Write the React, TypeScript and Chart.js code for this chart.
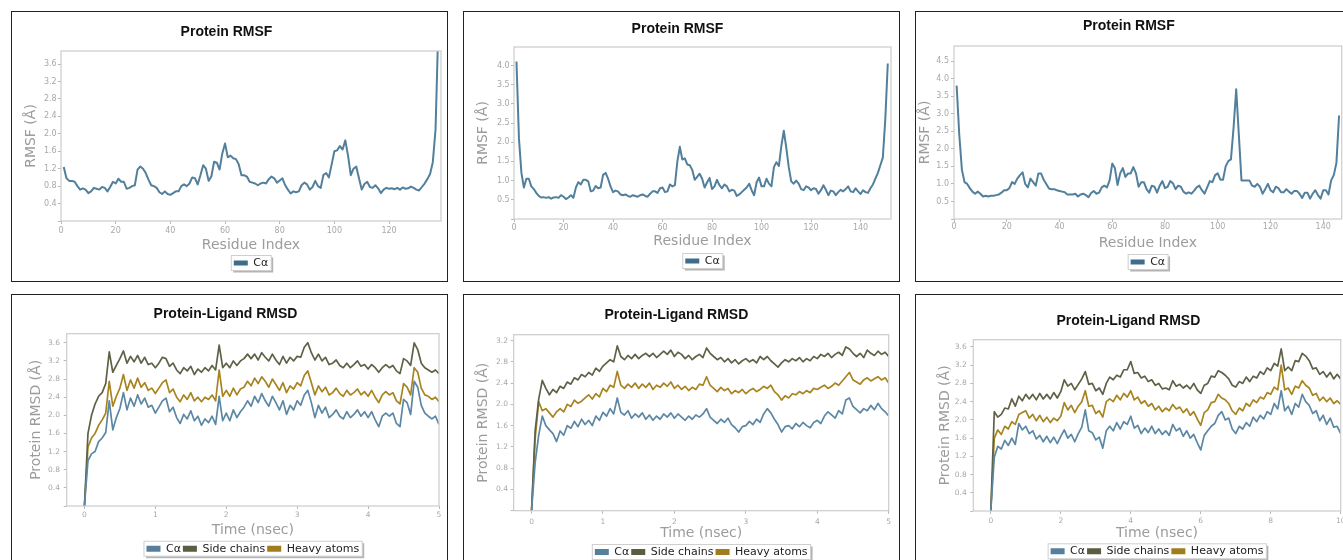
import { useEffect, useRef } from 'react';
import { Chart, registerables } from 'chart.js';

Chart.register(...registerables);

// ---------------- DATA ----------------
// Protein RMSF, C-alpha, one value per residue (residue index starts at 1)
const RMSF_A = [
  1.24, 0.98, 0.92, 0.92, 0.9, 0.8, 0.72, 0.75, 0.72, 0.64,
  0.68, 0.76, 0.74, 0.72, 0.78, 0.76, 0.68, 0.78, 0.9, 0.86,
  0.97, 0.9, 0.9, 0.74, 0.76, 0.8, 0.82, 1.18, 1.25, 1.2,
  1.1, 0.95, 0.82, 0.8, 0.76, 0.66, 0.62, 0.68, 0.62, 0.6,
  0.64, 0.68, 0.68, 0.8, 0.84, 0.8, 0.86, 1.0, 0.98, 0.84,
  1.05, 1.28, 1.2, 0.92, 1.02, 1.36, 1.34, 1.18, 1.55, 1.78,
  1.46, 1.5, 1.44, 1.42, 1.3, 1.05, 1.05, 1.02, 0.9, 0.88,
  0.86, 0.82, 0.86, 0.88, 0.86, 0.96, 1.02, 0.98, 0.88, 0.93,
  0.98, 0.82, 0.72, 0.63, 0.68, 0.66, 0.68, 0.82, 0.88, 0.84,
  0.72, 0.78, 0.92, 0.8, 0.76, 1.06, 1.1, 1.0, 1.3, 1.6,
  1.62, 1.72, 1.64, 1.85, 1.5, 1.05, 1.2, 1.25, 0.98, 0.72,
  0.85, 0.9, 0.78, 0.76, 0.82, 0.75, 0.64, 0.72, 0.76, 0.74,
  0.75, 0.73, 0.76, 0.72, 0.77, 0.74, 0.75, 0.79, 0.76, 0.72,
  0.7, 0.78, 0.86, 0.96, 1.08, 1.35, 2.1, 4.4,
];

const RMSF_B = [
  4.1, 2.1, 1.2, 0.82, 1.05, 1.05, 0.85, 0.78, 0.68, 0.6,
  0.56, 0.57, 0.55, 0.57, 0.53, 0.56, 0.57, 0.55, 0.62, 0.58,
  0.52, 0.56, 0.62, 0.55, 0.82, 0.96, 0.9, 1.02, 1.02, 0.98,
  0.72, 0.74, 0.86, 0.8, 0.82, 1.15, 1.2, 1.05, 0.85, 0.7,
  0.74, 0.72, 0.64, 0.62, 0.64, 0.6, 0.58, 0.62, 0.6, 0.58,
  0.62, 0.64, 0.6, 0.58, 0.66, 0.72, 0.72, 0.68, 0.8, 0.82,
  0.7, 0.72, 0.9, 0.85, 0.88, 1.5, 1.88, 1.55, 1.58, 1.42,
  1.4, 1.28, 1.02, 1.1, 1.18, 1.05, 0.82, 0.95, 1.07, 0.78,
  0.85, 1.02, 0.88, 0.8, 0.9, 0.85, 0.72, 0.76, 0.74, 0.6,
  0.64, 0.7, 0.76, 0.82, 0.92, 0.75, 0.62, 0.95, 1.08, 0.85,
  0.85, 1.05, 0.92, 0.85, 1.35, 1.48, 1.38, 1.9, 2.3, 1.85,
  1.35, 0.98, 0.92, 1.0, 0.92, 0.78, 0.75, 0.85, 0.82, 0.75,
  0.8, 0.78, 0.66, 0.75, 0.88, 0.76, 0.62, 0.74, 0.72, 0.62,
  0.7, 0.76, 0.72, 0.78, 0.85, 0.72, 0.7, 0.8, 0.72, 0.65,
  0.75, 0.7, 0.68, 0.8, 0.9, 1.05, 1.2, 1.4, 1.6, 2.6, 4.05,
];

const RMSF_C = [
  3.8, 2.4, 1.4, 1.05, 1.0, 0.88, 0.78, 0.72, 0.78, 0.72,
  0.64, 0.66, 0.64, 0.66, 0.66, 0.68, 0.7, 0.75, 0.82, 0.82,
  0.88, 1.05, 1.0, 1.15, 1.25, 1.33, 1.0, 0.9, 1.15, 1.05,
  0.95, 1.3, 1.3, 1.12, 1.0, 0.87, 0.85, 0.85, 0.82, 0.8,
  0.78, 0.76, 0.7, 0.7, 0.7, 0.72, 0.64, 0.7, 0.72, 0.68,
  0.62, 0.74, 0.8, 0.72, 0.75, 0.9, 0.95, 0.9, 1.1, 1.58,
  1.45, 0.97, 1.3, 1.45, 1.2, 1.3, 1.3, 1.48, 1.3, 0.92,
  1.05, 1.05, 0.85, 0.75, 0.95, 0.92, 0.75, 0.95, 1.08, 0.88,
  0.92, 1.08, 1.02, 0.85, 0.95, 0.92, 0.78, 0.72, 0.76, 0.72,
  0.8, 0.9, 0.95, 0.82, 0.72, 0.9, 1.08, 1.05, 1.25, 1.3,
  1.12, 1.12, 1.5, 1.65, 1.7, 2.6, 3.7, 2.4, 1.1, 1.1,
  1.1, 1.1, 0.95, 0.92, 1.0, 0.92, 0.72, 0.85, 1.0, 0.82,
  0.76, 0.92, 0.88, 0.76, 0.76, 0.85, 0.78, 0.72, 0.8, 0.8,
  0.72, 0.6, 0.75, 0.75, 0.58, 0.72, 0.82, 0.68, 0.58, 0.82,
  0.82, 0.7, 1.1, 1.25, 1.6, 2.95,
];

// Protein-Ligand RMSD, sampled every 0.05 ns (5 ns runs) or 0.1 ns (10 ns run)
const RMSD_A_CA = [
  0, 1.0, 1.15, 1.2, 1.42, 1.5, 1.62, 2.32, 1.68, 1.95,
  2.15, 2.5, 2.12, 2.38, 2.2, 2.45, 2.25, 2.38, 2.18, 2.22,
  2.05, 2.18, 2.32, 2.38, 2.08, 2.18, 1.95, 1.82, 2.02, 1.92,
  2.1, 1.88, 1.98, 1.78, 1.92, 1.84, 1.98, 1.8, 2.42, 1.88,
  2.05, 1.88, 2.12, 1.95, 2.08, 2.18, 2.32, 2.2, 2.42, 2.28,
  2.48, 2.32, 2.2, 2.42, 2.28, 2.12, 2.32, 2.02, 2.22, 2.12,
  2.32, 2.22, 2.45, 2.55, 2.28, 1.95, 2.22, 2.05, 2.18, 1.95,
  2.02, 2.12, 1.98, 1.92, 2.08, 1.95, 2.02, 2.12, 1.98, 2.08,
  1.95, 2.08, 1.9, 1.75, 1.98, 2.05, 1.98, 2.05, 1.82, 1.75,
  2.35, 2.28, 2.02, 2.75, 2.62, 2.22, 2.05, 1.98, 1.92, 1.98,
  1.8,
];
const RMSD_A_SC = [
  0, 1.6, 2.0, 2.25, 2.42, 2.5, 2.7, 3.4, 2.95, 3.1,
  3.25, 3.42, 3.15, 3.3, 3.18, 3.32, 3.15, 3.28, 3.12, 3.15,
  3.05, 3.15, 3.28, 3.25, 3.08, 3.15, 3.0, 2.92, 3.05, 2.98,
  3.08, 2.9, 3.02, 2.95, 3.05, 2.98, 3.1, 3.0, 3.55, 3.05,
  3.15, 3.05, 3.2, 3.1, 3.2, 3.25, 3.35, 3.25, 3.35, 3.22,
  3.38, 3.28, 3.2, 3.35, 3.22, 3.12, 3.3, 3.15, 3.28, 3.2,
  3.3, 3.28, 3.5, 3.6, 3.38, 3.22, 3.35, 3.2, 3.28, 3.12,
  3.15, 3.22, 3.1, 3.05, 3.15, 3.05, 3.12, 3.2, 3.08, 3.12,
  3.02, 3.12, 3.05, 2.95, 3.05, 3.12, 3.05, 3.1, 2.98, 2.92,
  3.25, 3.2, 3.1, 3.6, 3.45, 3.15, 3.05, 3.0, 2.95, 3.0,
  2.92,
];
const RMSD_A_HV = [
  0, 1.3, 1.5, 1.6, 1.78, 1.9, 2.05, 2.75, 2.2, 2.42,
  2.6, 2.9, 2.55, 2.78, 2.6, 2.82, 2.62, 2.72, 2.55, 2.6,
  2.48, 2.6, 2.72, 2.78, 2.5, 2.58, 2.4, 2.3, 2.45, 2.35,
  2.5, 2.32, 2.4, 2.3, 2.4, 2.35, 2.45, 2.32, 3.0, 2.42,
  2.55, 2.42, 2.6, 2.45, 2.58, 2.62, 2.75, 2.65, 2.82, 2.7,
  2.85, 2.75, 2.62, 2.8, 2.68, 2.55, 2.72, 2.5, 2.65, 2.58,
  2.72, 2.65, 2.88, 2.98, 2.72, 2.45, 2.65, 2.52, 2.62, 2.45,
  2.5, 2.6, 2.48, 2.42, 2.55, 2.45, 2.5, 2.58, 2.45, 2.52,
  2.42, 2.55, 2.4, 2.28, 2.45, 2.52, 2.45, 2.5, 2.32, 2.25,
  2.7, 2.62, 2.45, 3.05, 2.95, 2.6, 2.45, 2.42, 2.35, 2.4,
  2.3,
];

const RMSD_B_CA = [
  0, 0.9, 1.42, 1.78, 1.6, 1.52, 1.45, 1.3, 1.5, 1.42,
  1.6, 1.55, 1.68, 1.58, 1.72, 1.62, 1.7, 1.6, 1.78, 1.7,
  1.85, 1.78, 1.92, 1.82, 2.12, 1.85, 1.8, 1.88, 1.74, 1.82,
  1.76, 1.84, 1.72, 1.8, 1.7, 1.78, 1.72, 1.82, 1.76, 1.84,
  1.74, 1.82, 1.76, 1.7, 1.78, 1.72, 1.8, 1.76, 1.82, 1.92,
  1.76, 1.7, 1.64, 1.72, 1.66, 1.74, 1.62, 1.56, 1.48, 1.58,
  1.6, 1.68, 1.62, 1.72, 1.66, 1.82, 1.92, 1.84, 1.72, 1.62,
  1.48, 1.58, 1.6, 1.54, 1.64, 1.58, 1.66, 1.6, 1.56, 1.66,
  1.7, 1.64, 1.78, 1.86, 1.8, 1.74, 1.88, 1.82, 2.08, 2.12,
  1.96, 1.9, 1.84, 1.92, 1.88, 1.98, 1.9, 2.02, 1.92, 1.86,
  1.78,
];
const RMSD_B_SC = [
  0, 1.5, 2.1, 2.45, 2.3, 2.18, 2.28, 2.22, 2.34, 2.3,
  2.42, 2.38, 2.5, 2.46, 2.56, 2.52, 2.6, 2.55, 2.68, 2.62,
  2.72, 2.78, 2.84, 2.8, 3.1, 2.9, 2.84, 2.92, 2.86, 2.94,
  2.86, 2.92, 2.96, 2.9, 2.96, 2.88, 2.94, 3.0, 2.94, 3.02,
  2.9, 2.98, 2.94, 2.86, 2.92, 2.84, 2.9, 2.94, 2.88, 3.06,
  2.96, 2.9, 2.84, 2.88, 2.8, 2.86, 2.78, 2.84, 2.76, 2.82,
  2.86, 2.8, 2.84, 2.78, 2.9, 2.84, 2.9, 2.82, 2.76, 2.7,
  2.78, 2.84, 2.8, 2.86, 2.82, 2.88, 2.8, 2.86, 2.82, 2.9,
  2.86, 2.94, 2.9, 2.96, 2.88, 2.94, 2.98, 2.92, 3.08, 3.04,
  2.96, 2.9, 2.96, 2.88, 3.02, 2.96, 2.92, 3.0, 2.94, 2.98,
  2.9,
];
const RMSD_B_HV = [
  0, 1.35, 2.05, 1.88, 1.92, 1.84, 1.76, 1.86, 1.92, 1.86,
  2.0, 1.96, 2.08, 2.02, 2.06, 2.12, 2.18, 2.1, 2.2, 2.14,
  2.3, 2.24, 2.36, 2.32, 2.62, 2.36, 2.3, 2.38, 2.32, 2.4,
  2.3, 2.38, 2.32, 2.4, 2.28, 2.36, 2.32, 2.4, 2.34, 2.42,
  2.3, 2.36, 2.28, 2.34, 2.26, 2.32, 2.28, 2.38, 2.36, 2.52,
  2.36, 2.3, 2.24, 2.32, 2.26, 2.3, 2.2, 2.26, 2.22, 2.28,
  2.2, 2.26, 2.3, 2.24, 2.28, 2.34, 2.3, 2.36, 2.24, 2.18,
  2.08, 2.16, 2.12, 2.2, 2.18, 2.24, 2.2, 2.26, 2.22, 2.3,
  2.28, 2.32, 2.36, 2.3, 2.34, 2.4, 2.36, 2.44, 2.52, 2.6,
  2.46, 2.42, 2.38, 2.46, 2.5, 2.44, 2.48, 2.52, 2.46, 2.5,
  2.4,
];

const RMSD_C_CA = [
  0, 1.18, 1.42, 1.36, 1.55, 1.44, 1.6, 1.46, 1.92, 1.78,
  1.86, 1.7, 1.76, 1.58, 1.66, 1.52, 1.64, 1.5, 1.62, 1.48,
  1.64, 1.78, 1.6, 1.68, 1.52, 1.7, 1.84, 2.22, 1.76, 1.72,
  1.56, 1.62, 1.38, 1.76, 1.86, 1.76, 1.94, 1.8, 1.96, 1.9,
  2.08, 1.82, 1.88, 1.7, 1.82, 1.72, 1.86, 1.7, 1.8, 1.68,
  1.76, 1.66, 1.9, 1.76, 1.82, 1.64, 1.76, 1.6, 1.68, 1.5,
  1.34, 1.66, 1.76, 1.86, 1.92, 2.1, 2.18, 2.0, 2.04, 1.8,
  1.7, 1.86, 1.8, 1.94, 1.86, 2.06, 1.96, 2.1, 2.02, 2.18,
  2.12, 2.36, 2.24, 2.64, 2.2, 2.3, 2.12, 2.36, 2.28, 2.56,
  2.4, 2.32, 2.14, 2.2, 1.98, 2.1, 1.9, 2.04, 1.84, 1.86,
  1.7,
];
const RMSD_C_SC = [
  0, 2.18, 2.06, 2.12, 2.26, 2.24, 2.46, 2.3, 2.52, 2.42,
  2.56, 2.46, 2.56, 2.44, 2.58, 2.46, 2.56, 2.46, 2.6, 2.48,
  2.62, 2.88, 2.74, 2.8, 2.66, 2.78, 2.9, 3.06, 2.78, 2.8,
  2.64, 2.7, 2.56, 2.8, 2.94, 2.88, 2.98, 2.94, 3.1, 3.1,
  3.28, 3.02, 3.04, 2.92, 2.96, 2.84, 2.88, 2.76, 2.8, 2.68,
  2.7, 2.66, 2.86, 2.74, 2.78, 2.7, 2.76, 2.68, 2.8, 2.66,
  2.58, 2.76, 2.8, 2.96, 2.94, 3.08, 3.04, 2.98, 2.9, 2.76,
  2.72, 2.84, 2.8, 2.94, 2.84, 2.96, 2.92, 3.06, 3.0, 3.14,
  3.08, 3.24, 3.18, 3.56, 3.08, 3.16, 3.08, 3.3, 3.28, 3.46,
  3.4, 3.3, 3.12, 3.14, 3.0, 3.06, 2.94, 3.04, 2.9, 3.0,
  2.9,
];
const RMSD_C_HV = [
  0, 1.6, 1.78, 1.68, 1.86, 1.8, 1.96, 1.9, 2.12, 2.16,
  2.2, 2.04, 2.12, 1.98, 2.1, 1.96, 2.06, 1.94, 2.04, 1.98,
  2.08, 2.38, 2.22, 2.32, 2.16, 2.3, 2.4, 2.64, 2.3, 2.32,
  2.14, 2.2, 2.06, 2.4, 2.46, 2.4, 2.54, 2.44, 2.58, 2.5,
  2.64, 2.44, 2.5, 2.36, 2.42, 2.3, 2.36, 2.22, 2.3, 2.18,
  2.26, 2.2, 2.34, 2.24, 2.28, 2.16, 2.24, 2.1, 2.18, 2.02,
  1.88, 2.16, 2.22, 2.38, 2.4, 2.56, 2.48, 2.44, 2.36, 2.2,
  2.12, 2.26, 2.2, 2.36, 2.3, 2.44, 2.38, 2.5, 2.46, 2.6,
  2.56, 2.72, 2.66, 3.2, 2.66, 2.7, 2.56, 2.74, 2.7, 2.86,
  2.76, 2.7, 2.54, 2.58, 2.42, 2.5, 2.4, 2.48, 2.36, 2.42,
  2.34,
];

const RMSD_STEP_5NS = 0.05;
const RMSD_STEP_10NS = 0.1;

const residues = (vals: number[]) => vals.map((_, i) => i + 1);
const times = (vals: number[], step: number) => vals.map((_, i) => Math.round(i * step * 1000) / 1000);

// ---------------- STYLE / LAYOUT ----------------
const RMSF_LINE = '#52809c';
const RMSF_PATCH = '#3e6c8a';
const CA_LINE = '#5b87a4';
const CA_PATCH = '#557f9c';
const SC_LINE = '#5f6147';
const SC_PATCH = '#5b5d42';
const HV_LINE = '#a88420';
const HV_PATCH = '#a07c1c';

const TICK_LEN = 3;
const LEG_PAD = 2;
const LEG_FONT = 11;
const SANS = '"DejaVu Sans", sans-serif';

type SeriesSpec = { label: string; values: number[]; line: string; patch: string; width: number };
type PanelSpec = {
  box: number[];
  plot: number[];
  titleY: number; yTitleX: number; yTickRight: number; xTickY: number; xTitleY: number; legendY: number;
  title: string; xTitle: string; yTitle: string;
  xMin: number; xMax: number; xStep: number; yMax: number; yStep: number;
  xs: number[]; series: SeriesSpec[]; tickFont: number; patchH: number;
};

const rmsfSeries = (v: number[]): SeriesSpec[] => [
  { label: 'Cα', values: v, line: RMSF_LINE, patch: RMSF_PATCH, width: 2 },
];
const rmsdSeries = (ca: number[], sc: number[], hv: number[]): SeriesSpec[] => [
  { label: 'Cα', values: ca, line: CA_LINE, patch: CA_PATCH, width: 1.7 },
  { label: 'Side chains', values: sc, line: SC_LINE, patch: SC_PATCH, width: 1.7 },
  { label: 'Heavy atoms', values: hv, line: HV_LINE, patch: HV_PATCH, width: 1.7 },
];

const PANELS: PanelSpec[] = [
  {
    box: [11, 11, 437, 271], plot: [61, 51, 441, 221],
    titleY: 31.7, yTitleX: 31.7, yTickRight: 56.7, xTickY: 230.7, xTitleY: 245, legendY: 263,
    title: 'Protein RMSF', xTitle: 'Residue Index', yTitle: 'RMSF (Å)',
    xMin: 0, xMax: 139, xStep: 20, yMax: 3.9, yStep: 0.4,
    xs: residues(RMSF_A), series: rmsfSeries(RMSF_A), tickFont: 8, patchH: 5,
  },
  {
    box: [463, 11, 437, 271], plot: [514, 47, 891, 219],
    titleY: 29, yTitleX: 483.7, yTickRight: 509.7, xTickY: 228.3, xTitleY: 241, legendY: 261,
    title: 'Protein RMSF', xTitle: 'Residue Index', yTitle: 'RMSF (Å)',
    xMin: 0, xMax: 152.3, xStep: 20, yMax: 4.48, yStep: 0.5,
    xs: residues(RMSF_B), series: rmsfSeries(RMSF_B), tickFont: 8, patchH: 5,
  },
  {
    box: [915, 11, 440, 271], plot: [954, 46, 1341.7, 219],
    titleY: 25.7, yTitleX: 925.5, yTickRight: 949, xTickY: 226.5, xTitleY: 243, legendY: 262,
    title: 'Protein RMSF', xTitle: 'Residue Index', yTitle: 'RMSF (Å)',
    xMin: 0, xMax: 147, xStep: 20, yMax: 4.93, yStep: 0.5,
    xs: residues(RMSF_C), series: rmsfSeries(RMSF_C), tickFont: 8, patchH: 5,
  },
  {
    box: [11, 294, 437, 280], plot: [66.7, 333.7, 439, 506],
    titleY: 313.7, yTitleX: 36.7, yTickRight: 60, xTickY: 514.7, xTitleY: 530, legendY: 548.7,
    title: 'Protein-Ligand RMSD', xTitle: 'Time (nsec)', yTitle: 'Protein RMSD (Å)',
    xMin: -0.25, xMax: 5, xStep: 1, yMax: 3.8, yStep: 0.4,
    xs: times(RMSD_A_CA, RMSD_STEP_5NS), series: rmsdSeries(RMSD_A_CA, RMSD_A_SC, RMSD_A_HV), tickFont: 7.5, patchH: 6,
  },
  {
    box: [463, 294, 437, 280], plot: [513.7, 334.7, 888.7, 510.7],
    titleY: 315.3, yTitleX: 483.7, yTickRight: 508, xTickY: 522, xTitleY: 533.7, legendY: 552,
    title: 'Protein-Ligand RMSD', xTitle: 'Time (nsec)', yTitle: 'Protein RMSD (Å)',
    xMin: -0.25, xMax: 5, xStep: 1, yMax: 3.31, yStep: 0.4,
    xs: times(RMSD_B_CA, RMSD_STEP_5NS), series: rmsdSeries(RMSD_B_CA, RMSD_B_SC, RMSD_B_HV), tickFont: 7.5, patchH: 6,
  },
  {
    box: [915, 294, 440, 280], plot: [973.3, 339.7, 1340.7, 511],
    titleY: 321.3, yTitleX: 945.7, yTickRight: 966.7, xTickY: 521.3, xTitleY: 533.7, legendY: 551.3,
    title: 'Protein-Ligand RMSD', xTitle: 'Time (nsec)', yTitle: 'Protein RMSD (Å)',
    xMin: -0.5, xMax: 10, xStep: 2, yMax: 3.76, yStep: 0.4,
    xs: times(RMSD_C_CA, RMSD_STEP_10NS), series: rmsdSeries(RMSD_C_CA, RMSD_C_SC, RMSD_C_HV), tickFont: 7.5, patchH: 6,
  },
];

// ---------------- PLUGINS ----------------
const framePlugin = {
  id: 'plotFrame',
  beforeDraw(chart: any) {
    const lg = chart.legend;
    const hb = lg && lg.legendHitBoxes;
    if (!hb || !hb.length) return;
    const ctx = chart.ctx;
    const x0 = Math.min(...hb.map((h: any) => h.left)) - 2.5;
    const x1 = Math.max(...hb.map((h: any) => h.left + h.width)) + 3;
    const y0 = hb[0].top - 2;
    const y1 = hb[0].top + hb[0].height + 2;
    ctx.save();
    ctx.fillStyle = '#b4b4b4';
    ctx.fillRect(x0 + 2, y0 + 2, x1 - x0, y1 - y0);
    ctx.fillStyle = '#ffffff';
    ctx.fillRect(x0, y0, x1 - x0, y1 - y0);
    ctx.strokeStyle = '#cfcfcf';
    ctx.lineWidth = 1;
    ctx.strokeRect(x0, y0, x1 - x0, y1 - y0);
    ctx.restore();
  },
  afterDraw(chart: any) {
    const a = chart.chartArea;
    const ctx = chart.ctx;
    ctx.save();
    ctx.strokeStyle = '#cccccc';
    ctx.lineWidth = 1.2;
    ctx.strokeRect(a.left, a.top, a.right - a.left, a.bottom - a.top);
    ctx.restore();
  },
};

function buildConfig(p: PanelSpec): any {
  const cx = p.box[0] + 1;
  const cy = p.box[1] + 1;
  const cw = p.box[2] - 2;
  const ch = p.box[3] - 2;
  const plotL = p.plot[0] - cx;
  const plotT = p.plot[1] - cy;
  const plotR = p.plot[2] - cx;
  const plotB = p.plot[3] - cy;
  const titleLH = 14 * 1.2;
  const tPadTop = p.titleY - cy - titleLH / 2;
  const tPadBottom = plotT - tPadTop - titleLH;
  const legendTop = p.legendY - cy - LEG_PAD - LEG_FONT / 2;
  const legendH = LEG_FONT + LEG_PAD + 10;
  const padBottom = ch - legendTop - legendH;
  const xH = legendTop - plotB;
  const xTickPad = p.xTickY - p.plot[3] - TICK_LEN - p.tickFont * 0.6;
  const xTitlePad = legendTop - (p.xTitleY - cy) - 8.4;
  const yTickPad = p.plot[0] - p.yTickRight - TICK_LEN;
  const yTitlePad = p.yTitleX - cx - 8.4;
  const padRight = cw - plotR;

  const grid = { display: true, drawOnChartArea: false, drawTicks: true, tickLength: TICK_LEN, tickColor: '#b8b8b8', lineWidth: 1 };
  const tickFont = { family: SANS, size: p.tickFont };
  const axisTitleFont = { family: SANS, size: 14 };

  return {
    type: 'line',
    data: {
      datasets: p.series.map((s) => ({
        label: s.label,
        data: s.values.map((v, i) => ({ x: p.xs[i], y: v })),
        borderColor: s.line,
        backgroundColor: s.patch,
        borderWidth: s.width,
        borderJoinStyle: 'round',
        pointRadius: 0,
        tension: 0,
        fill: false,
      })),
    },
    options: {
      responsive: false,
      animation: false,
      events: [],
      layout: { padding: { left: 0, top: 0, right: padRight, bottom: padBottom } },
      plugins: {
        title: {
          display: true,
          text: p.title,
          color: '#111111',
          font: { family: '"Liberation Sans", Arial, sans-serif', size: 14, weight: 'bold' },
          padding: { top: tPadTop, bottom: tPadBottom },
        },
        legend: {
          display: true,
          position: 'bottom',
          fullSize: false,
          labels: {
            boxWidth: 14,
            boxHeight: p.patchH,
            padding: LEG_PAD,
            color: '#222222',
            font: { family: SANS, size: LEG_FONT },
            generateLabels: (chart: any) =>
              chart.data.datasets.map((ds: any, i: number) => ({
                text: ds.label,
                fillStyle: ds.backgroundColor,
                strokeStyle: ds.backgroundColor,
                lineWidth: 0,
                hidden: false,
                datasetIndex: i,
                fontColor: '#222222',
              })),
          },
        },
        tooltip: { enabled: false },
      },
      scales: {
        x: {
          type: 'linear',
          min: p.xMin,
          max: p.xMax,
          afterFit: (s: any) => { s.height = xH; },
          grid,
          border: { display: false },
          ticks: {
            stepSize: p.xStep,
            includeBounds: false,
            autoSkip: false,
            maxRotation: 0,
            padding: xTickPad,
            color: '#a8a8a8',
            font: tickFont,
            callback: (v: any) => String(Math.round(Number(v) * 100) / 100),
          },
          title: { display: true, text: p.xTitle, color: '#9c9c9c', font: axisTitleFont, padding: { top: 0, bottom: xTitlePad } },
        },
        y: {
          type: 'linear',
          min: 0,
          max: p.yMax,
          afterFit: (s: any) => { s.width = plotL; },
          grid,
          border: { display: false },
          ticks: {
            stepSize: p.yStep,
            includeBounds: false,
            autoSkip: false,
            padding: yTickPad,
            color: '#a8a8a8',
            font: tickFont,
            callback: (v: any) => (Math.abs(Number(v)) < 1e-9 ? '' : Number(v).toFixed(1)),
          },
          title: { display: true, text: p.yTitle, color: '#9c9c9c', font: axisTitleFont, padding: { top: yTitlePad, bottom: 0 } },
        },
      },
    },
    plugins: [framePlugin],
  };
}

function Panel({ p }: { p: PanelSpec }) {
  const ref = useRef<HTMLCanvasElement | null>(null);
  useEffect(() => {
    if (!ref.current) return;
    const chart = new Chart(ref.current, buildConfig(p));
    return () => chart.destroy();
  }, [p]);
  const [l, t, w, h] = p.box;
  return (
    <div
      style={{
        position: 'absolute', left: l, top: t, width: w, height: h,
        border: '1px solid #222', boxSizing: 'border-box', background: '#fff',
      }}
    >
      <canvas ref={ref} width={w - 2} height={h - 2} style={{ display: 'block', width: w - 2, height: h - 2 }} />
    </div>
  );
}

export default function App() {
  return (
    <div style={{ position: 'absolute', left: 0, top: 0, width: 1343, height: 560, overflow: 'hidden', background: '#fff' }}>
      {PANELS.map((p, i) => (
        <Panel key={i} p={p} />
      ))}
    </div>
  );
}
